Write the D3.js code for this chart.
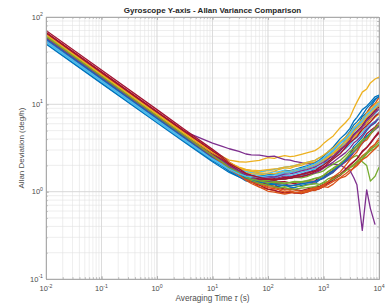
<!DOCTYPE html>
<html lang="en">
<head>
<meta charset="utf-8">
<title>Gyroscope Y-axis - Allan Variance Comparison</title>
<script src="https://d3js.org/d3.v7.min.js"></script>
<style>
  body { margin: 0; background: #fff; }
  text { font-family: "Liberation Sans", Arial, sans-serif; }
</style>
</head>
<body>
<div id="chart"></div>
<script>
// averaging times (s)
const tau = [0.01, 0.1, 1, 3, 10, 15, 20, 30, 40, 50, 70, 100, 130, 150, 200, 250, 300, 400, 500, 700, 850,
  1000, 1200, 1500, 2000, 2500, 3000, 3500, 4000, 5000, 6000, 7000, 8500, 10000];

// Allan deviation (deg/h), one array per run
const adev = [
  [52, 18.4, 6.5, 3.92, 2.32, 1.96, 1.71, 1.48, 1.38, 1.3, 1.24, 1.2, 1.22, 1.14, 1.19, 1.13, 1.11, 1.18, 1.21, 1.24, 1.36, 1.42, 1.52, 1.66, 2.05, 2.3, 2.75, 3.3, 3.6, 4.2, 5.0, 5.6, 6.1, 7.0],
  [63, 22, 7.7, 4.7, 2.71, 2.26, 1.95, 1.58, 1.44, 1.32, 1.13, 1.06, 1.03, 0.99, 0.98, 1.01, 0.96, 1.0, 1.04, 1.03, 1.09, 1.14, 1.12, 1.22, 1.43, 1.5, 1.66, 1.9, 2.05, 2.35, 2.8, 3.2, 3.5, 4.1],
  [60, 21, 7.37, 4.59, 2.83, 2.53, 2.3, 2.2, 2.18, 2.22, 2.28, 2.45, 2.4, 2.48, 2.58, 2.52, 2.55, 2.68, 2.78, 2.95, 3.2, 3.55, 3.9, 4.35, 5.4, 6.2, 7.1, 8.9, 10.6, 13.8, 15.0, 17.6, 19.5, 20.5],
  [57, 20.5, 7.5, 4.93, 3.6, 3.3, 3.1, 2.9, 2.7, 2.64, 2.62, 2.52, 2.55, 2.47, 2.33, 2.3, 2.22, 2.15, 2.08, 2.17, 2.2, 2.28, 2.5, 2.74, 3.05, 3.5, 3.95, 4.2, 4.5, 5.6, 6.0, 6.8, 7.9, 8.8],
  [54, 18.9, 6.7, 4.14, 2.43, 2.05, 1.8, 1.58, 1.4, 1.33, 1.29, 1.24, 1.26, 1.21, 1.15, 1.19, 1.17, 1.14, 1.19, 1.24, 1.21, 1.28, 1.4, 1.48, 1.57, 1.75, 1.88, 1.98, 2.14, 2.35, 2.7, 2.95, 3.1, 3.5],
  [58, 20.5, 7.15, 4.42, 2.66, 2.29, 2.05, 1.81, 1.7, 1.66, 1.6, 1.62, 1.7, 1.68, 1.77, 1.72, 1.78, 1.86, 1.93, 2.02, 2.2, 2.33, 2.5, 2.75, 3.25, 3.6, 4.05, 4.6, 4.95, 5.6, 6.5, 7.1, 7.7, 8.9],
  [70, 24.7, 8.7, 5.26, 3.05, 2.53, 2.19, 1.85, 1.65, 1.56, 1.41, 1.36, 1.33, 1.29, 1.3, 1.26, 1.24, 1.29, 1.32, 1.33, 1.45, 1.52, 1.6, 1.76, 2.1, 2.35, 2.65, 3.1, 3.35, 3.85, 4.6, 5.0, 5.5, 6.2],
  [49, 17.3, 6.16, 3.75, 2.2, 1.87, 1.66, 1.48, 1.33, 1.29, 1.3, 1.28, 1.34, 1.37, 1.39, 1.47, 1.52, 1.55, 1.6, 1.83, 1.9, 2.07, 2.35, 2.75, 3.25, 3.95, 4.6, 5.1, 5.5, 7.2, 8.0, 9.3, 11.2, 12.5],
  [61, 21.5, 7.6, 4.6, 2.66, 2.22, 1.93, 1.64, 1.52, 1.46, 1.36, 1.37, 1.33, 1.38, 1.47, 1.42, 1.48, 1.58, 1.63, 1.72, 1.88, 2.04, 2.2, 2.45, 3.05, 3.5, 4.1, 4.9, 5.4, 6.5, 8.0, 9.2, 10.2, 12.0],
  [59, 21, 7.37, 4.54, 2.71, 2.33, 2.1, 1.85, 1.75, 1.72, 1.68, 1.74, 1.72, 1.78, 1.87, 1.85, 1.93, 2.0, 2.12, 2.18, 2.3, 2.43, 2.55, 2.76, 3.15, 3.4, 3.75, 4.2, 4.5, 5.0, 5.9, 6.3, 7.1, 7.7],
  [56, 20, 7.04, 4.31, 2.54, 2.18, 1.93, 1.7, 1.58, 1.52, 1.44, 1.43, 1.47, 1.44, 1.52, 1.49, 1.53, 1.6, 1.67, 1.73, 1.82, 1.93, 2.0, 2.07, 2.02, 1.85, 1.75, 1.45, 1.2, 0.36, 1.05, 0.64, 0.42, null],
  [55, 19.4, 6.82, 4.2, 2.49, 2.11, 1.84, 1.62, 1.45, 1.39, 1.33, 1.29, 1.32, 1.29, 1.24, 1.28, 1.31, 1.3, 1.34, 1.42, 1.47, 1.53, 1.68, 1.82, 1.98, 2.2, 2.35, 2.5, 2.6, 2.2, 2.0, 1.32, 1.5, 1.9],
  [57, 20, 7.04, 4.31, 2.6, 2.24, 1.99, 1.75, 1.64, 1.59, 1.54, 1.53, 1.47, 1.49, 1.56, 1.53, 1.59, 1.66, 1.74, 1.83, 1.95, 2.07, 2.2, 2.42, 2.85, 3.1, 3.45, 3.9, 4.15, 4.75, 5.5, 5.9, 6.4, 7.1],
  [66, 23.1, 8.14, 4.98, 2.88, 2.42, 2.08, 1.78, 1.55, 1.44, 1.31, 1.19, 1.16, 1.13, 1.07, 1.09, 1.06, 1.03, 1.07, 1.13, 1.15, 1.21, 1.3, 1.42, 1.58, 1.8, 2.02, 2.2, 2.37, 2.85, 3.2, 3.55, 4.2, 4.7],
  [50, 17.6, 6.27, 3.86, 2.26, 1.96, 1.74, 1.55, 1.47, 1.46, 1.44, 1.51, 1.48, 1.54, 1.64, 1.66, 1.71, 1.8, 1.87, 1.98, 2.2, 2.38, 2.6, 2.95, 3.65, 4.2, 4.9, 5.8, 6.3, 7.5, 9.0, 10.0, 11.5, 12.2],
  [64, 22.6, 7.92, 4.82, 2.77, 2.31, 1.97, 1.67, 1.47, 1.37, 1.26, 1.14, 1.12, 1.09, 1.04, 1.06, 1.04, 1.01, 1.04, 1.11, 1.13, 1.19, 1.27, 1.39, 1.53, 1.75, 1.92, 2.05, 2.18, 2.58, 2.8, 3.05, 3.5, 3.9],
  [58, 20.5, 7.26, 4.48, 2.66, 2.27, 2.03, 1.83, 1.66, 1.61, 1.59, 1.54, 1.58, 1.61, 1.64, 1.7, 1.73, 1.76, 1.84, 2.02, 2.1, 2.23, 2.45, 2.72, 3.08, 3.5, 3.95, 4.2, 4.55, 5.6, 6.2, 6.8, 8.1, 9.2],
  [60, 21, 7.48, 4.59, 2.71, 2.29, 1.99, 1.71, 1.55, 1.46, 1.34, 1.31, 1.27, 1.24, 1.23, 1.17, 1.19, 1.24, 1.26, 1.29, 1.38, 1.44, 1.55, 1.68, 1.97, 2.2, 2.46, 2.8, 3.05, 3.55, 4.1, 4.6, 5.1, 5.6],
  [52, 18.5, 6.55, 4.03, 2.37, 2.04, 1.79, 1.59, 1.45, 1.39, 1.36, 1.34, 1.38, 1.39, 1.39, 1.43, 1.46, 1.44, 1.49, 1.62, 1.66, 1.73, 1.9, 2.07, 2.28, 2.6, 2.93, 3.1, 3.35, 3.95, 4.2, 4.7, 5.4, 5.9],
  [55, 19.4, 6.88, 4.26, 2.54, 2.2, 1.99, 1.78, 1.7, 1.66, 1.67, 1.76, 1.8, 1.84, 1.91, 1.95, 1.99, 2.1, 2.17, 2.28, 2.45, 2.58, 2.8, 3.07, 3.65, 4.0, 4.55, 5.2, 5.6, 6.4, 7.6, 8.3, 9.6, 10.5],
  [62, 22, 7.76, 4.7, 2.71, 2.24, 1.92, 1.62, 1.4, 1.29, 1.19, 1.07, 1.04, 1.01, 0.97, 0.99, 0.97, 0.95, 0.99, 1.06, 1.08, 1.14, 1.24, 1.36, 1.54, 1.8, 2.02, 2.2, 2.38, 2.92, 3.2, 3.65, 4.3, 4.9],
  [53, 18.7, 6.6, 4.03, 2.37, 2.05, 1.83, 1.63, 1.53, 1.51, 1.49, 1.56, 1.58, 1.61, 1.71, 1.74, 1.79, 1.9, 1.97, 2.13, 2.3, 2.52, 2.85, 3.25, 4.05, 4.6, 5.3, 6.4, 7.1, 8.7, 9.5, 10.6, 12.2, 12.8],
  [60, 21.2, 7.48, 4.54, 2.6, 2.17, 1.86, 1.59, 1.4, 1.29, 1.21, 1.11, 1.08, 1.06, 0.99, 1.02, 0.99, 0.96, 0.99, 1.06, 1.09, 1.14, 1.2, 1.31, 1.44, 1.6, 1.76, 1.85, 1.98, 2.32, 2.5, 2.75, 3.1, 3.4],
  [61, 21.5, 7.6, 4.65, 2.77, 2.42, 2.15, 1.91, 1.8, 1.76, 1.74, 1.79, 1.82, 1.84, 1.91, 1.94, 1.99, 2.1, 2.17, 2.28, 2.45, 2.62, 2.85, 3.15, 3.75, 4.2, 4.75, 5.4, 5.9, 6.7, 7.9, 8.6, 10.0, 10.8],
  [54, 19.1, 6.77, 4.14, 2.43, 2.09, 1.83, 1.6, 1.5, 1.43, 1.37, 1.39, 1.36, 1.39, 1.43, 1.42, 1.47, 1.5, 1.56, 1.64, 1.73, 1.86, 2.0, 2.18, 2.52, 2.8, 3.15, 3.6, 3.85, 4.45, 5.2, 5.7, 6.3, 7.0],
  [58, 20.5, 7.15, 4.37, 2.54, 2.15, 1.88, 1.6, 1.45, 1.36, 1.24, 1.19, 1.14, 1.11, 1.11, 1.08, 1.07, 1.1, 1.11, 1.14, 1.2, 1.26, 1.31, 1.39, 1.56, 1.72, 1.88, 2.05, 2.22, 2.48, 2.8, 3.05, 3.3, 3.7],
  [51, 18.1, 6.38, 3.92, 2.32, 2.0, 1.78, 1.57, 1.49, 1.46, 1.44, 1.49, 1.5, 1.54, 1.63, 1.64, 1.69, 1.78, 1.86, 1.99, 2.15, 2.31, 2.55, 2.82, 3.35, 3.8, 4.25, 4.9, 5.3, 6.0, 7.0, 7.7, 8.8, 9.6],
  [65, 23.1, 8.03, 4.87, 2.83, 2.37, 2.04, 1.74, 1.58, 1.49, 1.39, 1.39, 1.36, 1.39, 1.46, 1.47, 1.51, 1.58, 1.63, 1.74, 1.9, 2.02, 2.2, 2.47, 2.95, 3.35, 3.85, 4.5, 4.9, 5.7, 6.8, 7.4, 8.5, 9.3],
  [56, 19.7, 6.93, 4.26, 2.49, 2.11, 1.85, 1.6, 1.44, 1.39, 1.29, 1.26, 1.22, 1.19, 1.19, 1.16, 1.19, 1.23, 1.26, 1.31, 1.38, 1.46, 1.58, 1.73, 2.02, 2.3, 2.57, 2.9, 3.15, 3.65, 4.3, 4.7, 5.3, 5.8],
  [59, 20.8, 7.26, 4.42, 2.54, 2.12, 1.81, 1.55, 1.35, 1.24, 1.13, 1.01, 0.99, 0.97, 0.94, 0.96, 0.98, 0.97, 1.01, 1.09, 1.12, 1.19, 1.3, 1.47, 1.68, 2.0, 2.32, 2.6, 2.85, 3.65, 3.9, 4.5, 5.3, 6.0],
  [63, 22, 7.81, 4.76, 2.83, 2.44, 2.15, 1.88, 1.76, 1.71, 1.64, 1.63, 1.6, 1.64, 1.71, 1.72, 1.77, 1.84, 1.91, 2.04, 2.2, 2.32, 2.5, 2.78, 3.35, 3.75, 4.25, 4.9, 5.3, 6.1, 7.2, 7.9, 9.0, 9.8],
  [58, 20.5, 7.2, 4.42, 2.6, 2.23, 1.96, 1.71, 1.58, 1.53, 1.47, 1.49, 1.48, 1.51, 1.59, 1.6, 1.64, 1.73, 1.79, 1.91, 2.05, 2.17, 2.35, 2.57, 3.05, 3.4, 3.85, 4.4, 4.8, 5.5, 6.5, 7.1, 8.1, 8.9],
  [60, 21, 7.37, 4.48, 2.6, 2.19, 1.89, 1.65, 1.47, 1.39, 1.33, 1.27, 1.29, 1.26, 1.24, 1.27, 1.29, 1.28, 1.31, 1.41, 1.45, 1.54, 1.7, 1.87, 2.08, 2.4, 2.72, 2.9, 3.15, 3.85, 4.1, 4.6, 5.2, 5.9],
  [53, 18.7, 6.6, 4.03, 2.37, 2.05, 1.81, 1.6, 1.51, 1.49, 1.47, 1.53, 1.55, 1.59, 1.69, 1.7, 1.77, 1.84, 1.93, 2.08, 2.25, 2.42, 2.65, 2.97, 3.55, 4.05, 4.55, 5.3, 5.7, 6.5, 7.6, 8.3, 9.4, 10.2],
  [67, 23.6, 8.25, 5.04, 2.94, 2.44, 2.11, 1.83, 1.62, 1.54, 1.46, 1.39, 1.41, 1.39, 1.39, 1.43, 1.46, 1.49, 1.54, 1.69, 1.78, 1.88, 2.1, 2.37, 2.72, 3.2, 3.65, 3.95, 4.25, 5.2, 5.7, 6.3, 7.3, 8.0]
];

const colors = ["#0072BD", "#D95319", "#EDB120", "#7E2F8E", "#77AC30", "#4DBEEE", "#A2142F"];
const xTicks = [1e-2, 1e-1, 1e0, 1e1, 1e2, 1e3, 1e4];
const yTicks = [1e-1, 1e0, 1e1, 1e2];

const w = 389, h = 307;
const pLeft = 46, pRight = 379, pTop = 17, pBottom = 279;

const svg = d3.select("#chart").append("svg")
  .attr("width", w)
  .attr("height", h);

const x = d3.scaleLog().domain([1e-2, 1e4]).range([pLeft, pRight]);
const y = d3.scaleLog().domain([1e-1, 1e2]).range([pBottom, pTop]);

// minor grid
svg.append("g").selectAll("line")
  .data(x.ticks())
  .enter().append("line")
  .attr("x1", d => x(d)).attr("x2", d => x(d))
  .attr("y1", pTop).attr("y2", pBottom)
  .attr("stroke", "#e2e2e2").attr("stroke-width", 0.6);
svg.append("g").selectAll("line")
  .data(y.ticks())
  .enter().append("line")
  .attr("y1", d => y(d)).attr("y2", d => y(d))
  .attr("x1", pLeft).attr("x2", pRight)
  .attr("stroke", "#e2e2e2").attr("stroke-width", 0.6);

// major grid
svg.append("g").selectAll("line")
  .data(xTicks)
  .enter().append("line")
  .attr("x1", d => x(d)).attr("x2", d => x(d))
  .attr("y1", pTop).attr("y2", pBottom)
  .attr("stroke", "#d4d4d4").attr("stroke-width", 0.7);
svg.append("g").selectAll("line")
  .data(yTicks)
  .enter().append("line")
  .attr("y1", d => y(d)).attr("y2", d => y(d))
  .attr("x1", pLeft).attr("x2", pRight)
  .attr("stroke", "#d4d4d4").attr("stroke-width", 0.7);

// lines
svg.append("clipPath").attr("id", "clip")
  .append("rect")
  .attr("x", pLeft).attr("y", pTop)
  .attr("width", pRight - pLeft).attr("height", pBottom - pTop);

const line = d3.line()
  .defined(d => d != null)
  .x((d, i) => x(tau[i]))
  .y(d => y(d));

svg.append("g")
  .attr("clip-path", "url(#clip)")
  .selectAll("path")
  .data(adev)
  .enter().append("path")
  .attr("d", line)
  .attr("fill", "none")
  .attr("stroke", (d, i) => colors[i % colors.length])
  .attr("stroke-width", 1.3)
  .attr("stroke-linejoin", "round");

// axes (ticks inside, MATLAB style)
const axisColor = "#a8a8a8";
const mk = (fn, vals, size) => fn.tickValues(vals).tickFormat("").tickSizeInner(-size).tickSizeOuter(0);
[[mk(d3.axisBottom(x), xTicks, 3), `translate(0,${pBottom})`],
 [mk(d3.axisBottom(x), x.ticks(), 1.8), `translate(0,${pBottom})`],
 [mk(d3.axisTop(x), xTicks, 3), `translate(0,${pTop})`],
 [mk(d3.axisTop(x), x.ticks(), 1.8), `translate(0,${pTop})`],
 [mk(d3.axisLeft(y), yTicks, 3), `translate(${pLeft},0)`],
 [mk(d3.axisLeft(y), y.ticks(), 1.8), `translate(${pLeft},0)`],
 [mk(d3.axisRight(y), yTicks, 3), `translate(${pRight},0)`],
 [mk(d3.axisRight(y), y.ticks(), 1.8), `translate(${pRight},0)`]]
  .forEach(([ax, tr]) => {
    const g = svg.append("g").attr("transform", tr).call(ax);
    g.selectAll("path, line").attr("stroke", axisColor).attr("stroke-width", 0.8);
  });

// tick labels with superscripts
const labelColor = "#4d4d4d";
const xl = svg.append("g").selectAll("text")
  .data(xTicks)
  .enter().append("text")
  .attr("x", d => x(d))
  .attr("y", pBottom + 12)
  .attr("text-anchor", "middle")
  .attr("font-size", 7.5)
  .attr("fill", labelColor);
xl.append("tspan").text("10");
xl.append("tspan").attr("dy", -3.5).attr("font-size", 5.2).text(d => Math.round(Math.log10(d)));

const yl = svg.append("g").selectAll("text")
  .data(yTicks)
  .enter().append("text")
  .attr("x", pLeft - 3)
  .attr("y", d => y(d) + 2.5)
  .attr("text-anchor", "end")
  .attr("font-size", 7.5)
  .attr("fill", labelColor);
yl.append("tspan").text("10");
yl.append("tspan").attr("dy", -3.5).attr("font-size", 5.2).text(d => Math.round(Math.log10(d)));

// title and axis labels
svg.append("text")
  .attr("x", (pLeft + pRight) / 2)
  .attr("y", 13)
  .attr("text-anchor", "middle")
  .attr("font-size", 8)
  .attr("font-weight", "bold")
  .attr("fill", "#262626")
  .text("Gyroscope Y-axis - Allan Variance Comparison");

const xlab = svg.append("text")
  .attr("x", (pLeft + pRight) / 2)
  .attr("y", 301)
  .attr("text-anchor", "middle")
  .attr("font-size", 8.2)
  .attr("fill", labelColor);
xlab.append("tspan").text("Averaging Time ");
xlab.append("tspan").attr("font-style", "italic").text("τ");
xlab.append("tspan").text(" (s)");

svg.append("text")
  .attr("transform", `translate(24,${(pTop + pBottom) / 2}) rotate(-90)`)
  .attr("text-anchor", "middle")
  .attr("font-size", 8)
  .attr("fill", labelColor)
  .text("Allan Deviation (deg/h)");
</script>
</body>
</html>
